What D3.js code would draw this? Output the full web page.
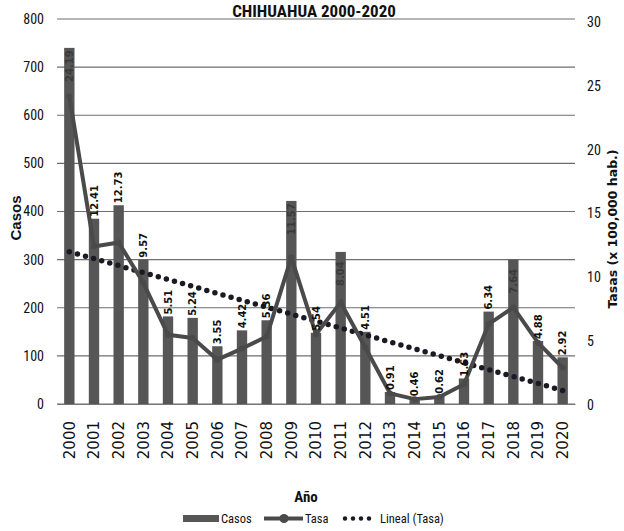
<!DOCTYPE html>
<html><head><meta charset="utf-8">
<script src="https://cdn.jsdelivr.net/npm/d3@7"></script>
<style>
html,body{margin:0;padding:0;background:#fff;}
svg{display:block;}
</style></head>
<body><svg id="c" width="624" height="531"></svg>
<script>
const years = ["2000","2001","2002","2003","2004","2005","2006","2007","2008","2009","2010","2011","2012","2013","2014","2015","2016","2017","2018","2019","2020"];
const casos = [740,385,413,300,182,179,120,153,174,422,148,316,150,25,12,17,53,192,300,131,97];
const tasa = [24.19,12.41,12.73,9.57,5.51,5.24,3.55,4.42,5.36,11.57,5.54,8.04,4.51,0.91,0.46,0.62,1.63,6.34,7.64,4.88,2.92];
const tasaLabels = ["24.19","12.41","12.73","9.57","5.51","5.24","3.55","4.42","5.36","11.57","5.54","8.04","4.51","0.91","0.46","0.62","1.63","6.34","7.64","4.88","2.92"];
const insideLabelYears = ["2000","2009","2011","2018"];
const leftTicks = [0,100,200,300,400,500,600,700,800];
const rightTicks = [0,5,10,15,20,25,30];
const title = "CHIHUAHUA 2000-2020";

const svg = d3.select("#c");
const narrow = "'Liberation Sans Narrow','Roboto Condensed','Liberation Sans',Arial,sans-serif";
const wide = "'DejaVu Sans',Verdana,sans-serif";
const x0 = 57, x1 = 575;
const x = d3.scaleBand().domain(years).range([x0, x1]).paddingInner(0.58).paddingOuter(0.29);
const yL = d3.scaleLinear().domain([0, 800]).range([404, 19]);
const yR = d3.scaleLinear().domain([0, 30]).range([405, 22]);
const cx = d => x(d) + x.bandwidth() / 2;

// gridlines
svg.append("g").selectAll("line").data(leftTicks).join("line")
  .attr("x1", x0).attr("x2", x1)
  .attr("y1", d => yL(d)).attr("y2", d => yL(d))
  .attr("stroke", "#6e6e6e").attr("stroke-width", 1.2);

// left axis
const gL = svg.append("g").attr("transform", `translate(${x0},0)`)
  .call(d3.axisLeft(yL).tickValues(leftTicks).tickSize(0).tickPadding(13));
gL.select(".domain").remove();
gL.selectAll("text").attr("font-family", narrow).attr("font-size", 14).attr("fill", "#111");

// right axis
const gR = svg.append("g").attr("transform", `translate(${x1},0)`)
  .call(d3.axisRight(yR).tickValues(rightTicks).tickSize(0).tickPadding(12));
gR.select(".domain").remove();
gR.selectAll("text").attr("font-family", narrow).attr("font-size", 14).attr("fill", "#111");

// bars
svg.append("g").selectAll("rect").data(years).join("rect")
  .attr("x", d => x(d)).attr("width", x.bandwidth())
  .attr("y", (d, i) => yL(casos[i])).attr("height", (d, i) => yL(0) - yL(casos[i]))
  .attr("fill", "#565656");

// bottom axis
const gB = svg.append("g").attr("transform", `translate(0,${yL(0)})`)
  .call(d3.axisBottom(x).tickSize(0).tickPadding(0));
gB.select(".domain").attr("stroke", "#777").attr("stroke-width", 1.2);
gB.selectAll("text")
  .attr("font-family", wide).attr("font-size", 15).attr("fill", "#111")
  .attr("text-anchor", "end").attr("dy", "0.35em")
  .attr("transform", "translate(0,17) rotate(-90)");

// trend line (linear regression of tasa)
const idx = years.map((d, i) => i);
const n = idx.length;
const mx = d3.mean(idx), my = d3.mean(tasa);
const slope = d3.sum(idx, i => (i - mx) * (tasa[i] - my)) / d3.sum(idx, i => (i - mx) ** 2);
const icpt = my - slope * mx;
const trend = [0, n - 1].map(i => [cx(years[i]), yR(icpt + slope * i)]);
svg.append("path").attr("d", d3.line()(trend))
  .attr("fill", "none").attr("stroke", "#1a1a24").attr("stroke-width", 5.5)
  .attr("stroke-linecap", "round").attr("stroke-dasharray", "0 8.4");

// tasa line
const line = d3.line().x((d, i) => cx(years[i])).y(d => yR(d));
svg.append("path").datum(tasa).attr("d", line)
  .attr("fill", "none").attr("stroke", "#4a4a4a").attr("stroke-width", 4).attr("stroke-linejoin", "round");
svg.append("g").selectAll("circle").data(tasa).join("circle")
  .attr("cx", (d, i) => cx(years[i])).attr("cy", d => yR(d)).attr("r", 3)
  .attr("fill", "#4a4a4a");

// data labels
svg.append("g").selectAll("text").data(years).join("text")
  .attr("transform", (d, i) => {
    const inside = insideLabelYears.includes(d);
    const yy = inside ? yL(casos[i]) + 34 : yL(casos[i]) - 2;
    return `translate(${cx(d)},${yy}) rotate(-90)`;
  })
  .attr("dy", "0.36em")
  .attr("font-family", wide).attr("font-weight", "bold").attr("font-size", 10)
  .attr("fill", d => insideLabelYears.includes(d) ? "#3a3a3a" : "#111")
  .text((d, i) => tasaLabels[i]);

// title
svg.append("text").attr("x", 314).attr("y", 17).attr("text-anchor", "middle")
  .attr("font-family", narrow).attr("font-weight", "bold").attr("font-size", 17).attr("fill", "#111")
  .text(title);

// axis titles
svg.append("text").attr("transform", "translate(21,218) rotate(-90)").attr("text-anchor", "middle")
  .attr("font-family", "'Liberation Sans',Arial,sans-serif").attr("font-weight", "bold").attr("font-size", 15).attr("fill", "#111")
  .text("Casos");
svg.append("text").attr("transform", "translate(617,229) rotate(-90)").attr("text-anchor", "middle")
  .attr("font-family", wide).attr("font-weight", "bold").attr("font-size", 12.5).attr("fill", "#111")
  .text("Tasas (x 100,000 hab.)");
svg.append("text").attr("x", 306).attr("y", 502).attr("text-anchor", "middle")
  .attr("font-family", narrow).attr("font-weight", "bold").attr("font-size", 15).attr("fill", "#111")
  .text("Año");

// legend
const lg = svg.append("g").attr("font-family", narrow).attr("font-size", 12.5).attr("fill", "#111");
lg.append("rect").attr("x", 183).attr("y", 515).attr("width", 36).attr("height", 7).attr("fill", "#565656");
lg.append("text").attr("x", 221).attr("y", 523).text("Casos");
lg.append("line").attr("x1", 264).attr("x2", 303).attr("y1", 518.5).attr("y2", 518.5).attr("stroke", "#4a4a4a").attr("stroke-width", 4);
lg.append("circle").attr("cx", 284).attr("cy", 518.5).attr("r", 4.5).attr("fill", "#4a4a4a");
lg.append("text").attr("x", 305).attr("y", 523).text("Tasa");
lg.append("line").attr("x1", 345).attr("x2", 377).attr("y1", 518.5).attr("y2", 518.5)
  .attr("stroke", "#1a1a24").attr("stroke-width", 4.5).attr("stroke-linecap", "round").attr("stroke-dasharray", "0 8");
lg.append("text").attr("x", 380).attr("y", 523).text("Lineal (Tasa)");
</script></body></html>
